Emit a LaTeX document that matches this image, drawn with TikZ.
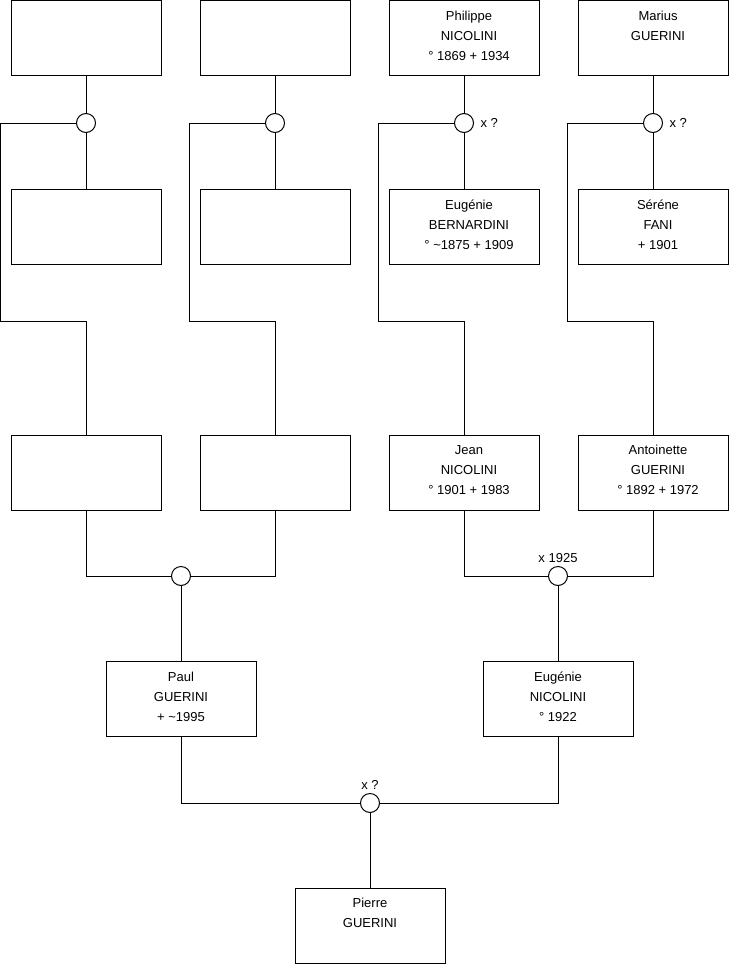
\documentclass[tikz,border=0pt]{standalone}
\usepackage{fontspec}
\setmainfont{Liberation Sans}
\begin{document}
\begin{tikzpicture}[x=0.75pt,y=-0.75pt,line width=0.75pt,
    pbox/.style={draw,minimum width=112.5pt,minimum height=56.25pt,inner sep=0pt},
    ptext/.style={anchor=north,align=center,inner sep=0pt,yshift=-4.2pt,
                  font=\fontsize{9.75}{15}\selectfont},
    wed/.style={circle,draw,fill=white,minimum size=14.25pt,inner sep=0pt},
    wtext/.style={inner sep=0pt,font=\fontsize{9.75}{11}\selectfont}]
    \useasboundingbox (0,0) rectangle (740,975);

    % --- ligne du haut ---
    \node[pbox] (t1) at (86,38) {};
    \node[pbox] (t2) at (275,38) {};
    \node[pbox,label={[ptext,xshift=3.75pt]north:\strut Philippe\\NICOLINI\\° 1869 + 1934}] (t3) at (464,38) {};
    \node[pbox,label={[ptext,xshift=3.75pt]north:\strut Marius\\GUERINI}] (t4) at (653,38) {};

    % --- epouses ---
    \node[pbox] (s1) at (86,227) {};
    \node[pbox] (s2) at (275,227) {};
    \node[pbox,label={[ptext,xshift=3.75pt]north:\strut Eugénie\\BERNARDINI\\° \textasciitilde1875 + 1909}] (s3) at (464,227) {};
    \node[pbox,label={[ptext,xshift=3.75pt]north:\strut Séréne\\FANI\\+ 1901}] (s4) at (653,227) {};

    % --- grands-parents ---
    \node[pbox] (g1) at (86,472.5) {};
    \node[pbox] (g2) at (275,472.5) {};
    \node[pbox,label={[ptext,xshift=3.75pt]north:\strut Jean\\NICOLINI\\° 1901 + 1983}] (g3) at (464,472.5) {};
    \node[pbox,label={[ptext,xshift=3.75pt]north:\strut Antoinette\\GUERINI\\° 1892 + 1972}] (g4) at (653,472.5) {};

    % --- parents et enfant ---
    \node[pbox,label={[ptext]north:\strut Paul\\GUERINI\\+ \textasciitilde1995}] (paul) at (181,699) {};
    \node[pbox,label={[ptext]north:\strut Eugénie\\NICOLINI\\° 1922}] (eug) at (558,699) {};
    \node[pbox,label={[ptext]north:\strut Pierre\\GUERINI}] (pierre) at (370,925.5) {};

    % --- mariages ---
    \node[wed] (u1) at (86,123) {};
    \node[wed] (u2) at (275,123) {};
    \node[wed,label={[wtext,label distance=4.5pt]right:x ?}] (u3) at (464,123) {};
    \node[wed,label={[wtext,label distance=4.5pt]right:x ?}] (u4) at (653,123) {};
    \node[wed] (uP) at (181,576) {};
    \node[wed,label={[wtext,label distance=2.3pt]above:x 1925}] (uE) at (558,576) {};
    \node[wed,label={[wtext,label distance=2.3pt]above:x ?}] (uX) at (370,803) {};

    % --- liens ---
    \foreach \i in {1,...,4} {
        \draw (t\i) -- (u\i) -- (s\i);
        % de l'union vers l'enfant
        \draw (u\i.west) -- ++(-75.5,0) -- ++(0,198) -| (g\i.north);
    }
    \draw (g1.south) |- (uP.west);
    \draw (g2.south) |- (uP.east);
    \draw (uP) -- (paul);
    \draw (g3.south) |- (uE.west);
    \draw (g4.south) |- (uE.east);
    \draw (uE) -- (eug);
    \draw (paul.south) |- (uX.west);
    \draw (eug.south) |- (uX.east);
    \draw (uX) -- (pierre);

\end{tikzpicture}
\end{document}
